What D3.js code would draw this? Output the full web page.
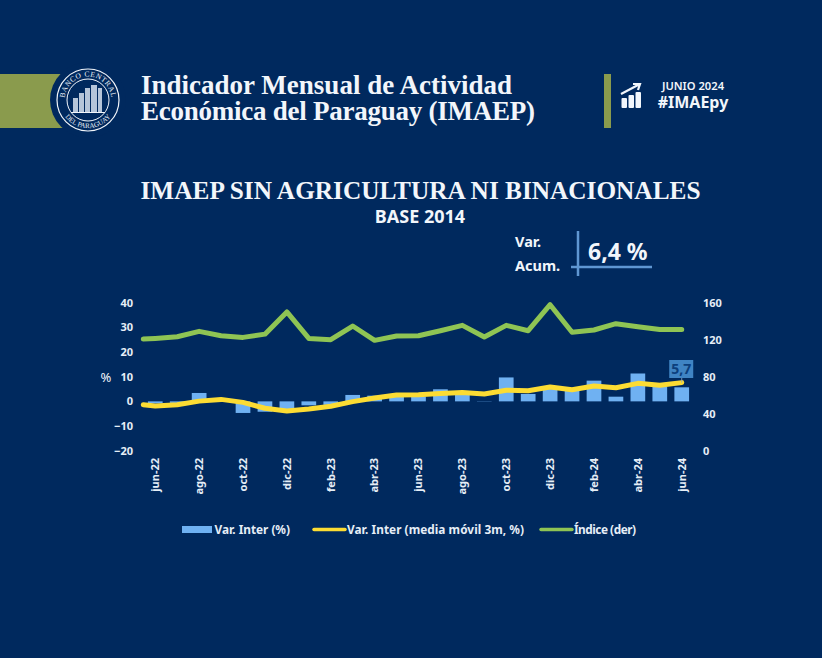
<!DOCTYPE html>
<html>
<head>
<meta charset="utf-8">
<script src="https://cdn.jsdelivr.net/npm/d3@7"></script>
<style>
  html, body { margin: 0; padding: 0; background: #00295e; }
  svg { display: block; }
  text { font-family: "Noto Sans", sans-serif; fill: #f2f6fb; }
  .serif { font-family: "Liberation Serif", serif; font-weight: 700; }
  .tick text { font-size: 11px; font-weight: 700; fill: #e6eef7; }
  .legend { font-size: 11.8px; font-weight: 700; fill: #e6eef7; }
</style>
</head>
<body>
<div id="chart"></div>
<script>
// Data
const months = ["jun-22","jul-22","ago-22","sep-22","oct-22","nov-22","dic-22","ene-23","feb-23","mar-23","abr-23","may-23",
                "jun-23","jul-23","ago-23","sep-23","oct-23","nov-23","dic-23","ene-24","feb-24","mar-24","abr-24","may-24","jun-24"];
const varInter = [-0.8,-0.6,3.4,0.4,-4.7,-4.2,-3.5,-1.6,-1.4,2.6,2.3,1.8,2.0,4.9,4.0,0.1,9.7,3.0,5.7,4.6,8.4,1.9,11.3,5.9,5.7];
const mediaMovil = [-1.9,-1.35,0.1,0.8,-0.4,-2.8,-3.9,-3.1,-2.0,-0.1,1.35,2.6,2.7,3.2,3.6,3.0,4.5,4.3,5.8,4.7,6.2,5.5,7.3,6.5,7.6];
const indice = [121.4,123.2,129,124.3,122.5,126,150,121.4,120,134.8,119.3,124,124.3,129.7,135.5,123,135.5,129.7,157.8,128,130.5,137.3,134,131,131];
// the two lines start a little left of the first bar in the original
const mediaMovilInicio = -1.35;
const indiceInicio = 120.7;

const xTicks = months.filter((d, i) => i % 2 === 0);
const leftTicks = [-20,-10,0,10,20,30,40];
const rightTicks = [0,40,80,120,160];
const legendItems = ["Var. Inter (%)", "Var. Inter (media móvil 3m, %)", "Índice (der)"];

const navy = "#00295e", barBlue = "#6fb1f2", yellow = "#fcdc33", green = "#8fc454", olive = "#8a9b4d", lineBlue = "#5f97d3";

const svg = d3.select("#chart").append("svg").attr("width", 822).attr("height", 658);
svg.append("rect").attr("width", 822).attr("height", 658).attr("fill", navy);

// Header: olive band and bank seal
svg.append("rect").attr("x", 0).attr("y", 74).attr("width", 70).attr("height", 54).attr("fill", olive);
svg.append("circle").attr("cx", 88).attr("cy", 100).attr("r", 38).attr("fill", navy);
const seal = svg.append("g").attr("transform", "translate(88,100)");
seal.append("circle").attr("r", 31).attr("fill", "none").attr("stroke", "#f2f6fb").attr("stroke-width", 1.2);
seal.append("circle").attr("r", 21).attr("fill", "none").attr("stroke", "#f2f6fb").attr("stroke-width", 1);
seal.append("path").attr("id", "sealTop").attr("d", d3.arc()({innerRadius: 23.5, outerRadius: 23.5, startAngle: -Math.PI * 0.72, endAngle: Math.PI * 0.72})).attr("fill", "none");
seal.append("path").attr("id", "sealBottom").attr("d", "M -24 15 A 28.5 28.5 0 0 0 24 15").attr("fill", "none");
seal.append("text").style("font-family", "Liberation Serif").style("font-size", "7.5px").style("letter-spacing", "0.5px")
  .append("textPath").attr("href", "#sealTop").attr("startOffset", "25%").attr("text-anchor", "middle").text("BANCO CENTRAL");
seal.append("text").style("font-family", "Liberation Serif").style("font-size", "7px")
  .append("textPath").attr("href", "#sealBottom").attr("startOffset", "50%").attr("text-anchor", "middle").text("DEL PARAGUAY");
// little building inside the seal
[[-15,-2,5,14],[-9,-7,5,19],[-3,-12,5,24],[3,-15,6,27],[10,-12,4,24]].forEach(b => {
  seal.append("rect").attr("x", b[0]).attr("y", b[1]).attr("width", b[2]).attr("height", b[3]).attr("fill", "#d5e0ee").attr("opacity", 0.85);
});
seal.append("path").attr("d", "M -17 12.5 H 17").attr("stroke", "#f2f6fb").attr("stroke-width", 1);

// Header titles
svg.append("text").attr("class", "serif").attr("x", 141).attr("y", 94).style("font-size", "27px").attr("textLength", 371).text("Indicador Mensual de Actividad");
svg.append("text").attr("class", "serif").attr("x", 141).attr("y", 120).style("font-size", "27px").attr("textLength", 394).text("Económica del Paraguay (IMAEP)");

svg.append("rect").attr("x", 604).attr("y", 74).attr("width", 7).attr("height", 54).attr("fill", olive);
[[621.5,98,5.5,10],[628.5,95,5.5,13],[635.5,92,5.5,16]].forEach(b => {
  svg.append("rect").attr("x", b[0]).attr("y", b[1]).attr("width", b[2]).attr("height", b[3]).attr("rx", 1).attr("fill", "#f2f6fb");
});
svg.append("path").attr("d", "M 621 94 L 639 84.5 M 633 84 L 640 84 L 638 90").attr("fill", "none").attr("stroke", "#f2f6fb").attr("stroke-width", 2.2);
svg.append("text").attr("x", 693).attr("y", 90).attr("text-anchor", "middle").style("font-size", "11.2px").style("font-weight", 600).text("JUNIO 2024");
svg.append("text").attr("x", 693).attr("y", 108).attr("text-anchor", "middle").style("font-size", "16px").style("font-weight", 700).text("#IMAEpy");

// Chart titles
svg.append("text").attr("class", "serif").attr("x", 420.5).attr("y", 199).attr("text-anchor", "middle").style("font-size", "25.3px").text("IMAEP SIN AGRICULTURA NI BINACIONALES");
svg.append("text").attr("x", 420).attr("y", 223).attr("text-anchor", "middle").style("font-size", "18px").style("font-weight", 700).text("BASE 2014");

// Accumulated variation box
svg.append("text").attr("x", 515).attr("y", 247).style("font-size", "14.5px").style("font-weight", 700).text("Var.");
svg.append("text").attr("x", 515).attr("y", 271).style("font-size", "14.5px").style("font-weight", 700).text("Acum.");
svg.append("path").attr("d", "M 578 231 V 276 M 571 267 H 652").attr("stroke", lineBlue).attr("stroke-width", 2.5).attr("fill", "none");
svg.append("text").attr("x", 588).attr("y", 260).style("font-size", "23px").style("font-weight", 700).text("6,4 %");

// Scales
const x = d3.scaleBand().domain(months).range([144.3, 692.7]).paddingInner(0.33).paddingOuter(0.165);
const mid = d => x(d) + x.bandwidth() / 2;
const yLeft = d3.scaleLinear().domain([-20, 40]).range([450.7, 302.7]);
const yRight = d3.scaleLinear().domain([0, 160]).range([450.7, 302.7]);

// Axes
const axisLeft = svg.append("g").attr("transform", "translate(135,0)")
  .call(d3.axisLeft(yLeft).tickValues(leftTicks).tickSize(0).tickPadding(2));
const axisRight = svg.append("g").attr("transform", "translate(701,0)")
  .call(d3.axisRight(yRight).tickValues(rightTicks).tickSize(0).tickPadding(2));
const axisBottom = svg.append("g").attr("transform", "translate(0,457)")
  .call(d3.axisBottom(x).tickValues(xTicks).tickSize(0));
axisLeft.select(".domain").remove();
axisRight.select(".domain").remove();
axisBottom.select(".domain").remove();
axisBottom.selectAll("text")
  .attr("transform", "rotate(-90)")
  .attr("text-anchor", "end")
  .attr("x", 0).attr("y", 0).attr("dx", -1).attr("dy", "0.35em");

svg.append("text").attr("x", 106).attr("y", 382).attr("text-anchor", "middle").style("font-size", "13px").text("%");

// Bars
svg.selectAll(".bar").data(months).enter().append("rect")
  .attr("class", "bar")
  .attr("x", d => x(d))
  .attr("width", x.bandwidth())
  .attr("y", (d, i) => yLeft(Math.max(varInter[i], 0)))
  .attr("height", (d, i) => Math.abs(yLeft(varInter[i]) - yLeft(0)))
  .attr("fill", barBlue);

// Lines, with the short stub before the first month
const lineStart = x.range()[0] - 1;
const drawLine = (first, values, scale, color) => {
  const pts = [[lineStart, scale(first)]].concat(values.map((v, i) => [mid(months[i]), scale(v)]));
  svg.append("path").datum(pts)
    .attr("d", d3.line())
    .attr("fill", "none").attr("stroke", color).attr("stroke-width", 5)
    .attr("stroke-linecap", "round").attr("stroke-linejoin", "round");
};
drawLine(indiceInicio, indice, yRight, green);
drawLine(mediaMovilInicio, mediaMovil, yLeft, yellow);

// Last value label
const last = months.length - 1;
svg.append("path").attr("d", `M ${mid(months[last])} 378 V ${yLeft(mediaMovil[last])}`).attr("stroke", "#8fa9c8").attr("stroke-width", 0.8);
svg.append("rect").attr("x", mid(months[last]) - 12.5).attr("y", 360).attr("width", 24).attr("height", 18).attr("fill", "#3f84c4");
svg.append("text").attr("x", mid(months[last]) - 0.5).attr("y", 374).attr("text-anchor", "middle")
  .style("font-size", "14px").style("font-weight", 700).style("fill", "#0c3f7d")
  .text(varInter[last].toFixed(1).replace(".", ","));

// Legend
svg.append("rect").attr("x", 182).attr("y", 526).attr("width", 30).attr("height", 7).attr("fill", barBlue);
svg.append("line").attr("x1", 314).attr("x2", 345).attr("y1", 529.5).attr("y2", 529.5).attr("stroke", yellow).attr("stroke-width", 3.5).attr("stroke-linecap", "round");
svg.append("line").attr("x1", 541).attr("x2", 572).attr("y1", 529.5).attr("y2", 529.5).attr("stroke", green).attr("stroke-width", 3.5).attr("stroke-linecap", "round");
svg.selectAll(".legend").data(legendItems).enter().append("text")
  .attr("class", "legend")
  .attr("x", (d, i) => [214.5, 347, 574][i])
  .attr("y", 534)
  .attr("textLength", (d, i) => [75.5, 177, 62][i])
  .text(d => d);
</script>
</body>
</html>
